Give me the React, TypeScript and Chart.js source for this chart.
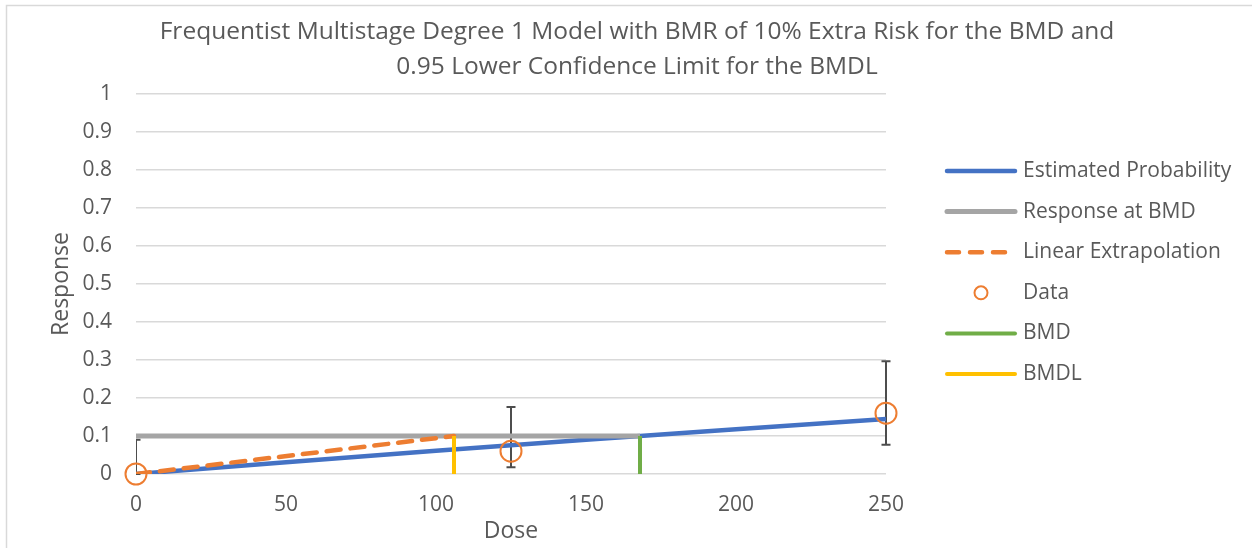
import React, { useEffect, useRef } from "react";
import { Chart, registerables } from "chart.js";

Chart.register(...registerables);

// ---------- data ----------
const TITLE_LINES = [
  "Frequentist Multistage Degree 1 Model with BMR of 10% Extra Risk for the BMD and",
  "0.95 Lower Confidence Limit for the BMDL",
];
const X_TITLE = "Dose";
const Y_TITLE = "Response";
const Y_TICK_LABELS = ["0", "0.1", "0.2", "0.3", "0.4", "0.5", "0.6", "0.7", "0.8", "0.9", "1"];

const SERIES_NAMES = [
  "Estimated Probability",
  "Response at BMD",
  "Linear Extrapolation",
  "Data",
  "BMD",
  "BMDL",
];

const MODEL_DOSE = [0, 50, 100, 150, 168, 200, 250];
const MODEL_PROB = [0, 0.031, 0.061, 0.09, 0.1, 0.118, 0.145];

const BMR_RESPONSE = 0.1;
const BMD = 168;
const BMDL = 106;

const DATA_DOSE = [0, 125, 250];
const DATA_RESP = [0, 0.06, 0.16];
const DATA_LOW = [0, 0.018, 0.077];
const DATA_HIGH = [0.09, 0.176, 0.297];

// ---------- style ----------
const FONT = "'Open Sans', sans-serif";
const TEXT = "#595959";
const C_BLUE = "#4472C4";
const C_GRAY = "#A5A5A5";
const C_ORANGE = "#ED7D31";
const C_GREEN = "#70AD47";
const C_YELLOW = "#FFC000";

const seriesStyles = [
  { color: C_BLUE, width: 4.5, dash: [] as number[] },
  { color: C_GRAY, width: 5, dash: [] as number[] },
  { color: C_ORANGE, width: 4.5, dash: [14, 10] },
  { color: C_ORANGE, width: 2, dash: [] as number[], marker: true },
  { color: C_GREEN, width: 4, dash: [] as number[] },
  { color: C_YELLOW, width: 4, dash: [] as number[] },
];

const framePlugin = {
  id: "frame",
  beforeDraw(chart: any) {
    const ctx = chart.ctx;
    ctx.save();
    ctx.fillStyle = "#ffffff";
    ctx.fillRect(0, 0, chart.width, chart.height);
    ctx.strokeStyle = "#D9D9D9";
    ctx.lineWidth = 1.5;
    ctx.beginPath();
    ctx.moveTo(6.5, chart.height + 2);
    ctx.lineTo(6.5, 5.5);
    ctx.lineTo(chart.width + 2, 5.5);
    ctx.stroke();
    ctx.restore();
  },
};

const titlePlugin = {
  id: "customTitle",
  afterDraw(chart: any) {
    const ctx = chart.ctx;
    ctx.save();
    ctx.fillStyle = TEXT;
    ctx.font = `24.5px ${FONT}`;
    ctx.textAlign = "center";
    ctx.textBaseline = "middle";
    TITLE_LINES.forEach((t, i) => ctx.fillText(t, 637, 32 + i * 35));
    ctx.restore();
  },
};

const errorBarPlugin = {
  id: "errorBars",
  beforeDatasetsDraw(chart: any) {
    const ctx = chart.ctx;
    const xs = chart.scales.x;
    const ys = chart.scales.y;
    const a = chart.chartArea;
    ctx.save();
    ctx.beginPath();
    ctx.rect(a.left, a.top - 5, a.right - a.left + 10, a.bottom - a.top + 10);
    ctx.clip();
    ctx.strokeStyle = "#4D4D4D";
    ctx.lineWidth = 2;
    DATA_DOSE.forEach((d, i) => {
      const x = xs.getPixelForValue(d);
      const yl = ys.getPixelForValue(DATA_LOW[i]);
      const yh = ys.getPixelForValue(DATA_HIGH[i]);
      ctx.beginPath();
      ctx.moveTo(x, yl);
      ctx.lineTo(x, yh);
      ctx.moveTo(x - 4.5, yh);
      ctx.lineTo(x + 4.5, yh);
      ctx.moveTo(x - 4.5, yl);
      ctx.lineTo(x + 4.5, yl);
      ctx.stroke();
    });
    ctx.restore();
  },
};

const legendPlugin = {
  id: "customLegend",
  afterDraw(chart: any) {
    const ctx = chart.ctx;
    ctx.save();
    ctx.font = `21px ${FONT}`;
    ctx.textBaseline = "middle";
    ctx.textAlign = "left";
    SERIES_NAMES.forEach((name, i) => {
      const y = 171 + i * 40.6;
      const s: any = seriesStyles[i];
      if (s.marker) {
        ctx.strokeStyle = s.color;
        ctx.lineWidth = 2;
        ctx.setLineDash([]);
        ctx.beginPath();
        ctx.arc(981, y, 6.5, 0, Math.PI * 2);
        ctx.stroke();
      } else {
        ctx.strokeStyle = s.color;
        ctx.lineWidth = s.width;
        ctx.lineCap = "round";
        ctx.setLineDash(s.dash.length ? [12, 11] : []);
        ctx.beginPath();
        ctx.moveTo(947, y);
        ctx.lineTo(1015, y);
        ctx.stroke();
        ctx.setLineDash([]);
      }
      ctx.fillStyle = TEXT;
      ctx.fillText(name, 1023, y);
    });
    ctx.restore();
  },
};

export default function App() {
  const ref = useRef<HTMLCanvasElement | null>(null);

  useEffect(() => {
    if (!ref.current) return;
    const lineDs = (label: string, data: any[], i: number, order: number) => ({
      label,
      data,
      borderColor: seriesStyles[i].color,
      backgroundColor: seriesStyles[i].color,
      borderWidth: seriesStyles[i].width,
      borderDash: seriesStyles[i].dash,
      borderCapStyle: i === 2 ? "round" : "butt",
      pointRadius: 0,
      showLine: true,
      fill: false,
      tension: 0,
      order,
    });

    const chart = new Chart(ref.current, {
      type: "scatter",
      data: {
        datasets: [
          lineDs(
            SERIES_NAMES[0],
            MODEL_DOSE.map((d, i) => ({ x: d, y: MODEL_PROB[i] })),
            0,
            6
          ),
          lineDs(
            SERIES_NAMES[1],
            [
              { x: 0, y: BMR_RESPONSE },
              { x: BMD, y: BMR_RESPONSE },
            ],
            1,
            5
          ),
          lineDs(
            SERIES_NAMES[2],
            [
              { x: 0, y: 0 },
              { x: BMDL, y: BMR_RESPONSE },
            ],
            2,
            4
          ),
          {
            label: SERIES_NAMES[3],
            data: DATA_DOSE.map((d, i) => ({ x: d, y: DATA_RESP[i] })),
            showLine: false,
            pointStyle: "circle",
            pointRadius: 10.5,
            pointBorderWidth: 2,
            pointBorderColor: C_ORANGE,
            pointBackgroundColor: "rgba(0,0,0,0)",
            clip: false,
            order: 3,
          } as any,
          lineDs(
            SERIES_NAMES[4],
            [
              { x: BMD, y: 0 },
              { x: BMD, y: BMR_RESPONSE },
            ],
            4,
            2
          ),
          lineDs(
            SERIES_NAMES[5],
            [
              { x: BMDL, y: 0 },
              { x: BMDL, y: BMR_RESPONSE },
            ],
            5,
            1
          ),
        ] as any,
      },
      options: {
        responsive: false,
        animation: false,
        events: [],
        layout: { padding: { left: 0, right: 366, top: 94, bottom: 0 } },
        plugins: {
          legend: { display: false },
          title: { display: false },
          tooltip: { enabled: false },
        },
        scales: {
          x: {
            type: "linear",
            min: 0,
            max: 250,
            afterFit: (s: any) => {
              s.height = 74;
            },
            ticks: {
              stepSize: 50,
              color: TEXT,
              font: { family: FONT, size: 21 },
              padding: 18,
            },
            grid: { display: false, drawTicks: false },
            border: { display: false },
            title: {
              display: true,
              text: X_TITLE,
              color: TEXT,
              font: { family: FONT, size: 23 },
              padding: { top: 0, bottom: 3 },
            },
          },
          y: {
            type: "linear",
            min: 0,
            max: 1,
            afterFit: (s: any) => {
              s.width = 136;
            },
            ticks: {
              stepSize: 0.1,
              color: TEXT,
              font: { family: FONT, size: 21 },
              padding: 24,
              callback: (_v: any, idx: number) => Y_TICK_LABELS[idx],
            },
            grid: { color: "#D9D9D9", lineWidth: 1.5, drawTicks: false },
            border: { display: false },
            title: {
              display: true,
              text: Y_TITLE,
              color: TEXT,
              font: { family: FONT, size: 23 },
              padding: { top: 48, bottom: 0 },
            },
          },
        },
      } as any,
      plugins: [framePlugin, errorBarPlugin, titlePlugin, legendPlugin],
    });
    return () => chart.destroy();
  }, []);

  return (
    <div style={{ position: "absolute", left: 0, top: 0, width: 1252, height: 548 }}>
      <canvas ref={ref} width={1252} height={548} style={{ display: "block" }} />
    </div>
  );
}
